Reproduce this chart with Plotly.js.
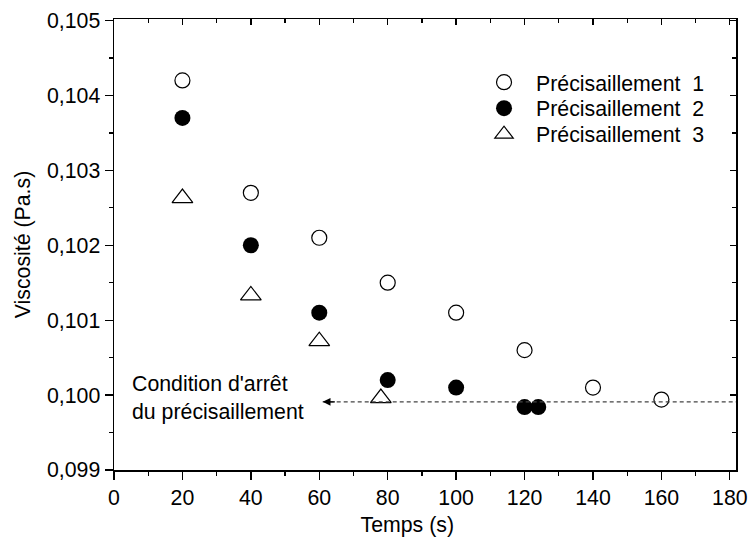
<!DOCTYPE html>
<html>
<head>
<meta charset="utf-8">
<script src="https://cdn.plot.ly/plotly-3.0.1.min.js"></script>
<style>html,body{margin:0;padding:0;background:#fff;}#chart{width:753px;height:542px;}</style>
</head>
<body>
<div id="chart"></div>
<script>
// Data
var time1 = [20, 40, 60, 80, 100, 120, 140, 160];
var visc1 = [0.1042, 0.1027, 0.1021, 0.1015, 0.1011, 0.1006, 0.1001, 0.09994];
var time2 = [20, 40, 60, 80, 100, 120, 124];
var visc2 = [0.1037, 0.1020, 0.1011, 0.1002, 0.1001, 0.09984, 0.09984];
var time3 = [20, 40, 60, 78];
var visc3 = [0.10263, 0.10133, 0.10072, 0.09996];
var seriesNames = ['Précisaillement  1', 'Précisaillement  2', 'Précisaillement  3'];
var stopLevel = 0.09991;          // stop condition viscosity
var stopLineX = [61, 181.8];      // extent of the dotted stop line (s)
var noteText = "Condition d'arrêt<br>du précisaillement";
var xTitle = 'Temps (s)';
var yTitle = 'Viscosité (Pa.s)';

var FONT = 'Liberation Sans, Arial, sans-serif';
var FS = 21.3;

var traces = [
  {x: time1, y: visc1, name: seriesNames[0], legend: 'legend', mode: 'markers', type: 'scatter',
   marker: {symbol: 'circle-open', size: 15, color: '#000', line: {width: 1.2, color: '#000'}}},
  {x: time2, y: visc2, name: seriesNames[1], legend: 'legend2', mode: 'markers', type: 'scatter',
   marker: {symbol: 'circle', size: 16, color: '#000', line: {width: 0}}},
  {x: time3, y: visc3, name: seriesNames[2], legend: 'legend3', mode: 'markers', type: 'scatter',
   marker: {symbol: 'triangle-up-open', size: 18, color: '#000', line: {width: 1.2, color: '#000'}}},
  {x: stopLineX, y: [stopLevel, stopLevel], mode: 'lines', type: 'scatter', showlegend: false,
   hoverinfo: 'skip', line: {color: '#444', width: 1.2, dash: '4px,3px'}}
];

var xr = [0, 181.8], yr = [0.099, 0.10502];
var axBase = {showgrid: false, zeroline: false, showline: true, linecolor: '#000', linewidth: 1.5,
  tickcolor: '#000', tickwidth: 1.3, tickfont: {family: FONT, size: FS, color: '#000'}};

function leg(y) {
  return {x: 0.5756, y: y, xanchor: 'left', yanchor: 'top', bgcolor: 'rgba(0,0,0,0)',
    borderwidth: 0, itemwidth: 54, tracegroupgap: 0, font: {family: FONT, size: FS, color: '#000'}};
}

var layout = {
  width: 753, height: 542,
  margin: {l: 114, r: 17, t: 19, b: 72, pad: 0},
  paper_bgcolor: '#fff', plot_bgcolor: '#fff',
  separators: ', ',
  font: {family: FONT, size: FS, color: '#000'},
  showlegend: true,
  legend: leg(0.905),
  legend2: leg(0.8474),
  legend3: leg(0.7898),
  xaxis: Object.assign({}, axBase, {range: xr, tick0: 0, dtick: 20, ticks: 'outside', ticklen: 8,
    minor: {dtick: 10, ticks: 'outside', ticklen: 4, tickwidth: 1.3, tickcolor: '#000'},
    title: {text: xTitle + '\u00a0\u00a0\u00a0\u00a0\u00a0\u00a0\u200b', font: {family: FONT, size: FS}, standoff: 8}}),
  yaxis: Object.assign({}, axBase, {range: yr, tick0: 0.099, dtick: 0.001, tickformat: '.3f',
    ticks: 'outside', ticklen: 8,
    minor: {dtick: 0.0005, ticks: 'outside', ticklen: 4, tickwidth: 1.3, tickcolor: '#000'},
    title: {text: yTitle, font: {family: FONT, size: FS}, standoff: 10}}),
  xaxis2: Object.assign({}, axBase, {range: xr, overlaying: 'x', side: 'top', anchor: 'y',
    tick0: 0, dtick: 20, ticks: 'inside', ticklen: 6, showticklabels: false,
    minor: {dtick: 10, ticks: 'inside', ticklen: 4, tickwidth: 1.3, tickcolor: '#000'}}),
  yaxis2: Object.assign({}, axBase, {range: yr, overlaying: 'y', side: 'right', anchor: 'x',
    tick0: 0.099, dtick: 0.001, ticks: 'inside', ticklen: 6, showticklabels: false,
    minor: {dtick: 0.0005, ticks: 'inside', ticklen: 4, tickwidth: 1.3, tickcolor: '#000'}}),
  annotations: [
    {x: 4.7, y: 0.09996, xref: 'x', yref: 'y', xanchor: 'left', yanchor: 'middle', align: 'left',
     text: noteText, showarrow: false, font: {family: FONT, size: FS, color: '#000'}},
    {x: stopLineX[0], y: stopLevel, ax: stopLineX[0] + 4, ay: stopLevel, xref: 'x', yref: 'y',
     axref: 'x', ayref: 'y', text: '', showarrow: true, arrowhead: 2, arrowsize: 1.3,
     arrowwidth: 1.2, arrowcolor: '#000'}
  ]
};

// invisible trace to anchor the mirrored frame axes
traces.push({x: xr, y: yr, xaxis: 'x2', yaxis: 'y2', mode: 'markers', type: 'scatter',
  showlegend: false, hoverinfo: 'skip', marker: {opacity: 0}});

Plotly.newPlot('chart', traces, layout, {staticPlot: true, displayModeBar: false});
</script>
</body>
</html>
